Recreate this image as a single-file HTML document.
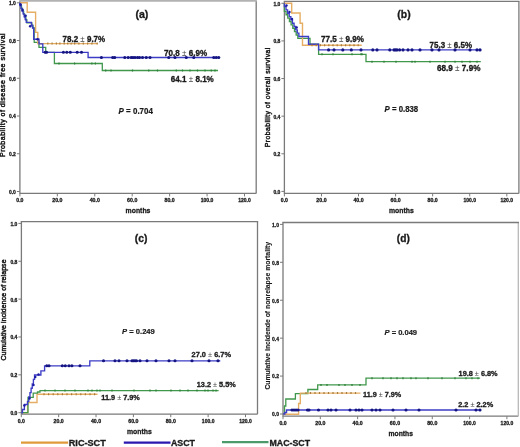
<!DOCTYPE html>
<html><head><meta charset="utf-8"><style>
html,body{margin:0;padding:0;background:#fff;width:520px;height:447px;overflow:hidden;position:relative}
text{font-family:"Liberation Sans", sans-serif}
</style></head><body>
<svg width="520" height="447" viewBox="0 0 520 447" style="position:absolute;left:0;top:0;filter:blur(0.3px)">
<g font-family='"Liberation Sans", sans-serif'>
<path d="M19.9,0.9 V193.4 H256.2" fill="none" stroke="#7a7a7a" stroke-width="1.3"/>
<path d="M256.2,193.4 V0.9" fill="none" stroke="#7a7a7a" stroke-width="1.3"/>
<path d="M19.25,0.9 H256.85" fill="none" stroke="#b2b2b2" stroke-width="1.6"/>
<text x="15.9" y="193.9" font-size="5.6" font-weight="bold" fill="#1a1a1a" text-anchor="end" textLength="7" lengthAdjust="spacingAndGlyphs" stroke="#1a1a1a" stroke-width="0.3">0.0</text>
<text x="15.9" y="156.16" font-size="5.6" font-weight="bold" fill="#1a1a1a" text-anchor="end" textLength="7" lengthAdjust="spacingAndGlyphs" stroke="#1a1a1a" stroke-width="0.3">0.2</text>
<text x="15.9" y="118.42" font-size="5.6" font-weight="bold" fill="#1a1a1a" text-anchor="end" textLength="7" lengthAdjust="spacingAndGlyphs" stroke="#1a1a1a" stroke-width="0.3">0.4</text>
<text x="15.9" y="80.68" font-size="5.6" font-weight="bold" fill="#1a1a1a" text-anchor="end" textLength="7" lengthAdjust="spacingAndGlyphs" stroke="#1a1a1a" stroke-width="0.3">0.6</text>
<text x="15.9" y="42.94" font-size="5.6" font-weight="bold" fill="#1a1a1a" text-anchor="end" textLength="7" lengthAdjust="spacingAndGlyphs" stroke="#1a1a1a" stroke-width="0.3">0.8</text>
<text x="15.9" y="5.2" font-size="5.6" font-weight="bold" fill="#1a1a1a" text-anchor="end" textLength="7" lengthAdjust="spacingAndGlyphs" stroke="#1a1a1a" stroke-width="0.3">1.0</text>
<text x="19.9" y="201.9" font-size="5.6" font-weight="bold" fill="#1a1a1a" text-anchor="middle" textLength="7.2" lengthAdjust="spacingAndGlyphs" stroke="#1a1a1a" stroke-width="0.3">0.0</text>
<text x="57.33" y="201.9" font-size="5.6" font-weight="bold" fill="#1a1a1a" text-anchor="middle" textLength="10.2" lengthAdjust="spacingAndGlyphs" stroke="#1a1a1a" stroke-width="0.3">20.0</text>
<text x="94.77" y="201.9" font-size="5.6" font-weight="bold" fill="#1a1a1a" text-anchor="middle" textLength="10.2" lengthAdjust="spacingAndGlyphs" stroke="#1a1a1a" stroke-width="0.3">40.0</text>
<text x="132.2" y="201.9" font-size="5.6" font-weight="bold" fill="#1a1a1a" text-anchor="middle" textLength="10.2" lengthAdjust="spacingAndGlyphs" stroke="#1a1a1a" stroke-width="0.3">60.0</text>
<text x="169.63" y="201.9" font-size="5.6" font-weight="bold" fill="#1a1a1a" text-anchor="middle" textLength="10.2" lengthAdjust="spacingAndGlyphs" stroke="#1a1a1a" stroke-width="0.3">80.0</text>
<text x="207.07" y="201.9" font-size="5.6" font-weight="bold" fill="#1a1a1a" text-anchor="middle" textLength="12.6" lengthAdjust="spacingAndGlyphs" stroke="#1a1a1a" stroke-width="0.3">100.0</text>
<text x="244.5" y="201.9" font-size="5.6" font-weight="bold" fill="#1a1a1a" text-anchor="middle" textLength="12.6" lengthAdjust="spacingAndGlyphs" stroke="#1a1a1a" stroke-width="0.3">120.0</text>
<path d="M16.9,191.5H19.9M16.9,153.76H19.9M16.9,116.02H19.9M16.9,78.28H19.9M16.9,40.54H19.9M16.9,2.8H19.9M19.9,193.4V196.4M57.33,193.4V196.4M94.77,193.4V196.4M132.2,193.4V196.4M169.63,193.4V196.4M207.07,193.4V196.4M244.5,193.4V196.4" stroke="#7a7a7a" stroke-width="1" fill="none"/>
<text x="125.6" y="213.2" font-size="8" font-weight="bold"  fill="#1a1a1a" textLength="24.8" lengthAdjust="spacingAndGlyphs" stroke="#1a1a1a" stroke-width="0.32">months</text>
<text transform="translate(5.2,157) rotate(-90)" x="0" y="0" font-size="7.0" font-weight="normal" fill="#1a1a1a" stroke="#1a1a1a" stroke-width="0.45" textLength="123.6" lengthAdjust="spacing">Probability of disease free survival</text>
<path d="M284.4,1.4 V193.4 H518.9" fill="none" stroke="#7a7a7a" stroke-width="1.3"/>
<path d="M518.9,193.4 V1.4" fill="none" stroke="#7a7a7a" stroke-width="1.3"/>
<path d="M283.75,1.4 H519.55" fill="none" stroke="#7a7a7a" stroke-width="1.3"/>
<text x="280.4" y="193.8" font-size="5.6" font-weight="bold" fill="#1a1a1a" text-anchor="end" textLength="7" lengthAdjust="spacingAndGlyphs" stroke="#1a1a1a" stroke-width="0.3">0.0</text>
<text x="280.4" y="156.18" font-size="5.6" font-weight="bold" fill="#1a1a1a" text-anchor="end" textLength="7" lengthAdjust="spacingAndGlyphs" stroke="#1a1a1a" stroke-width="0.3">0.2</text>
<text x="280.4" y="118.56" font-size="5.6" font-weight="bold" fill="#1a1a1a" text-anchor="end" textLength="7" lengthAdjust="spacingAndGlyphs" stroke="#1a1a1a" stroke-width="0.3">0.4</text>
<text x="280.4" y="80.94" font-size="5.6" font-weight="bold" fill="#1a1a1a" text-anchor="end" textLength="7" lengthAdjust="spacingAndGlyphs" stroke="#1a1a1a" stroke-width="0.3">0.6</text>
<text x="280.4" y="43.32" font-size="5.6" font-weight="bold" fill="#1a1a1a" text-anchor="end" textLength="7" lengthAdjust="spacingAndGlyphs" stroke="#1a1a1a" stroke-width="0.3">0.8</text>
<text x="280.4" y="5.7" font-size="5.6" font-weight="bold" fill="#1a1a1a" text-anchor="end" textLength="7" lengthAdjust="spacingAndGlyphs" stroke="#1a1a1a" stroke-width="0.3">1.0</text>
<text x="284.4" y="201.9" font-size="5.6" font-weight="bold" fill="#1a1a1a" text-anchor="middle" textLength="7.2" lengthAdjust="spacingAndGlyphs" stroke="#1a1a1a" stroke-width="0.3">0.0</text>
<text x="321.47" y="201.9" font-size="5.6" font-weight="bold" fill="#1a1a1a" text-anchor="middle" textLength="10.2" lengthAdjust="spacingAndGlyphs" stroke="#1a1a1a" stroke-width="0.3">20.0</text>
<text x="358.53" y="201.9" font-size="5.6" font-weight="bold" fill="#1a1a1a" text-anchor="middle" textLength="10.2" lengthAdjust="spacingAndGlyphs" stroke="#1a1a1a" stroke-width="0.3">40.0</text>
<text x="395.6" y="201.9" font-size="5.6" font-weight="bold" fill="#1a1a1a" text-anchor="middle" textLength="10.2" lengthAdjust="spacingAndGlyphs" stroke="#1a1a1a" stroke-width="0.3">60.0</text>
<text x="432.67" y="201.9" font-size="5.6" font-weight="bold" fill="#1a1a1a" text-anchor="middle" textLength="10.2" lengthAdjust="spacingAndGlyphs" stroke="#1a1a1a" stroke-width="0.3">80.0</text>
<text x="469.73" y="201.9" font-size="5.6" font-weight="bold" fill="#1a1a1a" text-anchor="middle" textLength="12.6" lengthAdjust="spacingAndGlyphs" stroke="#1a1a1a" stroke-width="0.3">100.0</text>
<text x="506.8" y="201.9" font-size="5.6" font-weight="bold" fill="#1a1a1a" text-anchor="middle" textLength="12.6" lengthAdjust="spacingAndGlyphs" stroke="#1a1a1a" stroke-width="0.3">120.0</text>
<path d="M281.4,191.4H284.4M281.4,153.78H284.4M281.4,116.16H284.4M281.4,78.54H284.4M281.4,40.92H284.4M281.4,3.3H284.4M284.4,193.4V196.4M321.47,193.4V196.4M358.53,193.4V196.4M395.6,193.4V196.4M432.67,193.4V196.4M469.73,193.4V196.4M506.8,193.4V196.4" stroke="#7a7a7a" stroke-width="1" fill="none"/>
<text x="389" y="213.2" font-size="8" font-weight="bold"  fill="#1a1a1a" textLength="24.8" lengthAdjust="spacingAndGlyphs" stroke="#1a1a1a" stroke-width="0.32">months</text>
<text transform="translate(270.2,147.2) rotate(-90)" x="0" y="0" font-size="6.8" font-weight="normal" fill="#1a1a1a" stroke="#1a1a1a" stroke-width="0.45" textLength="99.5" lengthAdjust="spacing">Probability of overall survival</text>
<path d="M21.4,221.6 V414.2 H257.5" fill="none" stroke="#7a7a7a" stroke-width="1.3"/>
<path d="M257.5,414.2 V221.6" fill="none" stroke="#7a7a7a" stroke-width="1.3"/>
<path d="M20.75,221.6 H258.15" fill="none" stroke="#7a7a7a" stroke-width="1.3"/>
<text x="17.4" y="415.1" font-size="5.6" font-weight="bold" fill="#1a1a1a" text-anchor="end" textLength="7" lengthAdjust="spacingAndGlyphs" stroke="#1a1a1a" stroke-width="0.3">0.0</text>
<text x="17.4" y="377.24" font-size="5.6" font-weight="bold" fill="#1a1a1a" text-anchor="end" textLength="7" lengthAdjust="spacingAndGlyphs" stroke="#1a1a1a" stroke-width="0.3">0.2</text>
<text x="17.4" y="339.38" font-size="5.6" font-weight="bold" fill="#1a1a1a" text-anchor="end" textLength="7" lengthAdjust="spacingAndGlyphs" stroke="#1a1a1a" stroke-width="0.3">0.4</text>
<text x="17.4" y="301.52" font-size="5.6" font-weight="bold" fill="#1a1a1a" text-anchor="end" textLength="7" lengthAdjust="spacingAndGlyphs" stroke="#1a1a1a" stroke-width="0.3">0.6</text>
<text x="17.4" y="263.66" font-size="5.6" font-weight="bold" fill="#1a1a1a" text-anchor="end" textLength="7" lengthAdjust="spacingAndGlyphs" stroke="#1a1a1a" stroke-width="0.3">0.8</text>
<text x="17.4" y="225.8" font-size="5.6" font-weight="bold" fill="#1a1a1a" text-anchor="end" textLength="7" lengthAdjust="spacingAndGlyphs" stroke="#1a1a1a" stroke-width="0.3">1.0</text>
<text x="21.3" y="423.2" font-size="5.6" font-weight="bold" fill="#1a1a1a" text-anchor="middle" textLength="7.2" lengthAdjust="spacingAndGlyphs" stroke="#1a1a1a" stroke-width="0.3">0.0</text>
<text x="58.67" y="423.2" font-size="5.6" font-weight="bold" fill="#1a1a1a" text-anchor="middle" textLength="10.2" lengthAdjust="spacingAndGlyphs" stroke="#1a1a1a" stroke-width="0.3">20.0</text>
<text x="96.03" y="423.2" font-size="5.6" font-weight="bold" fill="#1a1a1a" text-anchor="middle" textLength="10.2" lengthAdjust="spacingAndGlyphs" stroke="#1a1a1a" stroke-width="0.3">40.0</text>
<text x="133.4" y="423.2" font-size="5.6" font-weight="bold" fill="#1a1a1a" text-anchor="middle" textLength="10.2" lengthAdjust="spacingAndGlyphs" stroke="#1a1a1a" stroke-width="0.3">60.0</text>
<text x="170.77" y="423.2" font-size="5.6" font-weight="bold" fill="#1a1a1a" text-anchor="middle" textLength="10.2" lengthAdjust="spacingAndGlyphs" stroke="#1a1a1a" stroke-width="0.3">80.0</text>
<text x="208.13" y="423.2" font-size="5.6" font-weight="bold" fill="#1a1a1a" text-anchor="middle" textLength="12.6" lengthAdjust="spacingAndGlyphs" stroke="#1a1a1a" stroke-width="0.3">100.0</text>
<text x="245.5" y="423.2" font-size="5.6" font-weight="bold" fill="#1a1a1a" text-anchor="middle" textLength="12.6" lengthAdjust="spacingAndGlyphs" stroke="#1a1a1a" stroke-width="0.3">120.0</text>
<path d="M18.4,412.7H21.4M18.4,374.84H21.4M18.4,336.98H21.4M18.4,299.12H21.4M18.4,261.26H21.4M18.4,223.4H21.4M21.3,414.2V417.2M58.67,414.2V417.2M96.03,414.2V417.2M133.4,414.2V417.2M170.77,414.2V417.2M208.13,414.2V417.2M245.5,414.2V417.2" stroke="#7a7a7a" stroke-width="1" fill="none"/>
<text x="127" y="434" font-size="8" font-weight="bold"  fill="#1a1a1a" textLength="24.8" lengthAdjust="spacingAndGlyphs" stroke="#1a1a1a" stroke-width="0.32">months</text>
<text transform="translate(5.9,360.5) rotate(-90)" x="0" y="0" font-size="6.9" font-weight="normal" fill="#1a1a1a" stroke="#1a1a1a" stroke-width="0.45" textLength="101" lengthAdjust="spacing">Cumulative incidence of relapse</text>
<path d="M283,222.5 V416.2 H518.3" fill="none" stroke="#7a7a7a" stroke-width="1.3"/>
<path d="M518.3,416.2 V222.5" fill="none" stroke="#b8b8b8" stroke-width="1.3"/>
<path d="M282.35,222.5 H518.95" fill="none" stroke="#7a7a7a" stroke-width="1.3"/>
<text x="279" y="416.4" font-size="5.6" font-weight="bold" fill="#1a1a1a" text-anchor="end" textLength="7" lengthAdjust="spacingAndGlyphs" stroke="#1a1a1a" stroke-width="0.3">0.0</text>
<text x="279" y="378.48" font-size="5.6" font-weight="bold" fill="#1a1a1a" text-anchor="end" textLength="7" lengthAdjust="spacingAndGlyphs" stroke="#1a1a1a" stroke-width="0.3">0.2</text>
<text x="279" y="340.56" font-size="5.6" font-weight="bold" fill="#1a1a1a" text-anchor="end" textLength="7" lengthAdjust="spacingAndGlyphs" stroke="#1a1a1a" stroke-width="0.3">0.4</text>
<text x="279" y="302.64" font-size="5.6" font-weight="bold" fill="#1a1a1a" text-anchor="end" textLength="7" lengthAdjust="spacingAndGlyphs" stroke="#1a1a1a" stroke-width="0.3">0.6</text>
<text x="279" y="264.72" font-size="5.6" font-weight="bold" fill="#1a1a1a" text-anchor="end" textLength="7" lengthAdjust="spacingAndGlyphs" stroke="#1a1a1a" stroke-width="0.3">0.8</text>
<text x="279" y="226.8" font-size="5.6" font-weight="bold" fill="#1a1a1a" text-anchor="end" textLength="7" lengthAdjust="spacingAndGlyphs" stroke="#1a1a1a" stroke-width="0.3">1.0</text>
<text x="283" y="424.6" font-size="5.6" font-weight="bold" fill="#1a1a1a" text-anchor="middle" textLength="7.2" lengthAdjust="spacingAndGlyphs" stroke="#1a1a1a" stroke-width="0.3">0.0</text>
<text x="320.32" y="424.6" font-size="5.6" font-weight="bold" fill="#1a1a1a" text-anchor="middle" textLength="10.2" lengthAdjust="spacingAndGlyphs" stroke="#1a1a1a" stroke-width="0.3">20.0</text>
<text x="357.63" y="424.6" font-size="5.6" font-weight="bold" fill="#1a1a1a" text-anchor="middle" textLength="10.2" lengthAdjust="spacingAndGlyphs" stroke="#1a1a1a" stroke-width="0.3">40.0</text>
<text x="394.95" y="424.6" font-size="5.6" font-weight="bold" fill="#1a1a1a" text-anchor="middle" textLength="10.2" lengthAdjust="spacingAndGlyphs" stroke="#1a1a1a" stroke-width="0.3">60.0</text>
<text x="432.27" y="424.6" font-size="5.6" font-weight="bold" fill="#1a1a1a" text-anchor="middle" textLength="10.2" lengthAdjust="spacingAndGlyphs" stroke="#1a1a1a" stroke-width="0.3">80.0</text>
<text x="469.58" y="424.6" font-size="5.6" font-weight="bold" fill="#1a1a1a" text-anchor="middle" textLength="12.6" lengthAdjust="spacingAndGlyphs" stroke="#1a1a1a" stroke-width="0.3">100.0</text>
<text x="506.9" y="424.6" font-size="5.6" font-weight="bold" fill="#1a1a1a" text-anchor="middle" textLength="12.6" lengthAdjust="spacingAndGlyphs" stroke="#1a1a1a" stroke-width="0.3">120.0</text>
<path d="M280,414H283M280,376.08H283M280,338.16H283M280,300.24H283M280,262.32H283M280,224.4H283M283,416.2V419.2M320.32,416.2V419.2M357.63,416.2V419.2M394.95,416.2V419.2M432.27,416.2V419.2M469.58,416.2V419.2M506.9,416.2V419.2" stroke="#7a7a7a" stroke-width="1" fill="none"/>
<text x="388.5" y="435.8" font-size="8" font-weight="bold"  fill="#1a1a1a" textLength="24.4" lengthAdjust="spacingAndGlyphs" stroke="#1a1a1a" stroke-width="0.32">months</text>
<text transform="translate(270.4,389.6) rotate(-90)" x="0" y="0" font-size="6.8" font-weight="bold" fill="#1a1a1a" stroke="#1a1a1a" stroke-width="0.1" textLength="147.6" lengthAdjust="spacing">Cumulative incidende of nonrelapse mortality</text>
<path d="M20.4,2.8 L20.4,5.66 L21.49,5.66 L21.49,8.51 L22.57,8.51 L22.57,11.37 L23.66,11.37 L23.66,14.23 L24.74,14.23 L24.74,17.09 L25.83,17.09 L25.83,19.94 L26.91,19.94 L26.91,22.8 L28,22.8 L31.9,22.8 L31.9,25.4 L33.05,25.4 L33.05,28 L34.2,28 L34.2,42.4 L33.7,42.4 L39,42.4 L39,47.4 L45.7,47.4 L45.7,52.3 L54.4,52.3 L54.4,63.5 L102.3,63.5 L102.3,70.5 L218,70.5" fill="none" stroke="#40984C" stroke-width="1.3" stroke-linejoin="miter" stroke-linecap="butt"/>
<path d="M19.9,2.8 L27.2,2.8 L27.2,12.3 L35.6,12.3 L35.6,32.4 L37.8,32.4 L37.8,43.6 L98,43.6" fill="none" stroke="#E6AE64" stroke-width="1.4" stroke-linejoin="miter" stroke-linecap="butt"/>
<path d="M19.9,2.8 L19.9,5.59 L20.96,5.59 L20.96,8.37 L22.01,8.37 L22.01,11.16 L23.07,11.16 L23.07,13.94 L24.13,13.94 L24.13,16.73 L25.19,16.73 L25.19,19.51 L26.24,19.51 L26.24,22.3 L27.3,22.3 L31.4,22.3 L31.4,25.15 L32.55,25.15 L32.55,28 L33.7,28 L33.7,39.2 L39,39.2 L39,43.9 L42.8,43.9 L42.8,52.3 L88.1,52.3 L88.1,57.5 L219,57.5" fill="none" stroke="#3C3CC6" stroke-width="1.35" stroke-linejoin="miter" stroke-linecap="butt"/>
<path d="M47.8,42.6V44.6M52.1,42.6V44.6M56.4,42.6V44.6M59.9,42.6V44.6M64.2,42.6V44.6M67.7,42.6V44.6M71.1,42.6V44.6M74.6,42.6V44.6M78.9,42.6V44.6M83.3,42.6V44.6M87.6,42.6V44.6M91.9,42.6V44.6M97.1,42.6V44.6" stroke="#A97C3C" stroke-width="1.2" fill="none"/>
<path d="M59,62.5V64.5M74.6,62.5V64.5M91.9,62.5V64.5M95.4,62.5V64.5" stroke="#2F7F38" stroke-width="1.2" fill="none"/>
<path d="M105.7,69.5V71.5M111,69.5V71.5M132.5,69.5V71.5M148.75,69.5V71.5M157.5,69.5V71.5M176.25,69.5V71.5M182.5,69.5V71.5M190,69.5V71.5M197.5,69.5V71.5M205,69.5V71.5M211.25,69.5V71.5M215,69.5V71.5" stroke="#2F7F38" stroke-width="1.2" fill="none"/>
<circle cx="22.9" cy="0" r="0" fill="#3C3CC6"/>
<circle cx="23.2" cy="0" r="0" fill="#3C3CC6"/>
<circle cx="26.3" cy="0" r="0" fill="#3C3CC6"/>
<circle cx="30" cy="0" r="0" fill="#3C3CC6"/>
<circle cx="45.2" cy="52.3" r="1.55" fill="#141482"/>
<circle cx="46.6" cy="52.3" r="1.55" fill="#141482"/>
<circle cx="63.4" cy="52.3" r="1.55" fill="#141482"/>
<circle cx="66.8" cy="52.3" r="1.55" fill="#141482"/>
<circle cx="70.3" cy="52.3" r="1.55" fill="#141482"/>
<circle cx="77.2" cy="52.3" r="1.55" fill="#141482"/>
<circle cx="81.5" cy="52.3" r="1.55" fill="#141482"/>
<circle cx="101.4" cy="57.5" r="1.55" fill="#141482"/>
<circle cx="112.7" cy="57.5" r="1.55" fill="#141482"/>
<circle cx="114.7" cy="57.5" r="1.55" fill="#141482"/>
<circle cx="124.8" cy="57.5" r="1.55" fill="#141482"/>
<circle cx="128.2" cy="57.5" r="1.55" fill="#141482"/>
<circle cx="131.25" cy="57.5" r="1.55" fill="#141482"/>
<circle cx="133" cy="57.5" r="1.55" fill="#141482"/>
<circle cx="135" cy="57.5" r="1.55" fill="#141482"/>
<circle cx="137.5" cy="57.5" r="1.55" fill="#141482"/>
<circle cx="139.5" cy="57.5" r="1.55" fill="#141482"/>
<circle cx="142.5" cy="57.5" r="1.55" fill="#141482"/>
<circle cx="146.25" cy="57.5" r="1.55" fill="#141482"/>
<circle cx="150" cy="57.5" r="1.55" fill="#141482"/>
<circle cx="168.75" cy="57.5" r="1.55" fill="#141482"/>
<circle cx="175" cy="57.5" r="1.55" fill="#141482"/>
<circle cx="186.25" cy="57.5" r="1.55" fill="#141482"/>
<circle cx="193.75" cy="57.5" r="1.55" fill="#141482"/>
<circle cx="213.75" cy="57.5" r="1.55" fill="#141482"/>
<circle cx="216.25" cy="57.5" r="1.55" fill="#141482"/>
<circle cx="218.75" cy="57.5" r="1.55" fill="#141482"/>
<circle cx="20.6" cy="4.6" r="1.3" fill="#1a1aa0"/>
<circle cx="22.6" cy="10.0" r="1.3" fill="#1a1aa0"/>
<circle cx="25.6" cy="15.8" r="1.3" fill="#1a1aa0"/>
<circle cx="30.2" cy="26.2" r="1.3" fill="#1a1aa0"/>
<circle cx="37.6" cy="39.3" r="1.3" fill="#1a1aa0"/>
<path d="M284.4,3.3 L284.4,8 L284.4,11.38 L286.08,11.38 L286.08,14.76 L287.76,14.76 L287.76,18.13 L289.43,18.13 L289.43,21.51 L291.11,21.51 L291.11,24.89 L292.79,24.89 L292.79,28.27 L294.47,28.27 L294.47,31.64 L296.14,31.64 L296.14,35.02 L297.82,35.02 L297.82,38.4 L299.5,38.4 L310,38.4 L310,44.2 L318.6,44.2 L318.6,54.3 L366,54.3 L366,61.7 L480.8,61.7" fill="none" stroke="#40984C" stroke-width="1.3" stroke-linejoin="miter" stroke-linecap="butt"/>
<path d="M284.4,3.3 L291.7,3.3 L291.7,13 L300.1,13 L300.1,23.3 L302.5,23.3 L302.5,45.2 L361.8,45.2" fill="none" stroke="#E6AE64" stroke-width="1.4" stroke-linejoin="miter" stroke-linecap="butt"/>
<path d="M284.4,3.3 L284.4,6.62 L286.01,6.62 L286.01,9.94 L287.62,9.94 L287.62,13.26 L289.23,13.26 L289.23,16.58 L290.84,16.58 L290.84,19.9 L292.45,19.9 L292.45,23.22 L294.06,23.22 L294.06,26.54 L295.67,26.54 L295.67,29.86 L297.28,29.86 L297.28,33.18 L298.89,33.18 L298.89,36.5 L300.5,36.5 L308.5,36.5 L308.5,44.2 L318.6,44.2 L318.6,49.9 L481.3,49.9" fill="none" stroke="#3C3CC6" stroke-width="1.35" stroke-linejoin="miter" stroke-linecap="butt"/>
<path d="M312,44.2V46.2M316.2,44.2V46.2M320.4,44.2V46.2M324.6,44.2V46.2M328.8,44.2V46.2M333,44.2V46.2M337.2,44.2V46.2M341.4,44.2V46.2M345.6,44.2V46.2M349.8,44.2V46.2M354,44.2V46.2M358.2,44.2V46.2" stroke="#A97C3C" stroke-width="1.2" fill="none"/>
<path d="M322,53.3V55.3M333,53.3V55.3M352,53.3V55.3M361,53.3V55.3M362,53.3V55.3" stroke="#2F7F38" stroke-width="1.2" fill="none"/>
<path d="M372,60.7V62.7M384,60.7V62.7M396,60.7V62.7M412,60.7V62.7M415,60.7V62.7M430,60.7V62.7M445,60.7V62.7M455,60.7V62.7M462,60.7V62.7M470,60.7V62.7M477,60.7V62.7" stroke="#2F7F38" stroke-width="1.2" fill="none"/>
<circle cx="328.6" cy="49.9" r="1.55" fill="#141482"/>
<circle cx="334" cy="49.9" r="1.55" fill="#141482"/>
<circle cx="342.8" cy="49.9" r="1.55" fill="#141482"/>
<circle cx="351.3" cy="49.9" r="1.55" fill="#141482"/>
<circle cx="361" cy="49.9" r="1.55" fill="#141482"/>
<circle cx="372.8" cy="49.9" r="1.55" fill="#141482"/>
<circle cx="377" cy="49.9" r="1.55" fill="#141482"/>
<circle cx="389.8" cy="49.9" r="1.55" fill="#141482"/>
<circle cx="394" cy="49.9" r="1.55" fill="#141482"/>
<circle cx="395.5" cy="49.9" r="1.55" fill="#141482"/>
<circle cx="397" cy="49.9" r="1.55" fill="#141482"/>
<circle cx="399.6" cy="49.9" r="1.55" fill="#141482"/>
<circle cx="403" cy="49.9" r="1.55" fill="#141482"/>
<circle cx="408" cy="49.9" r="1.55" fill="#141482"/>
<circle cx="412" cy="49.9" r="1.55" fill="#141482"/>
<circle cx="420" cy="49.9" r="1.55" fill="#141482"/>
<circle cx="432" cy="49.9" r="1.55" fill="#141482"/>
<circle cx="439" cy="49.9" r="1.55" fill="#141482"/>
<circle cx="455" cy="49.9" r="1.55" fill="#141482"/>
<circle cx="470" cy="49.9" r="1.55" fill="#141482"/>
<circle cx="477" cy="49.9" r="1.55" fill="#141482"/>
<circle cx="480" cy="49.9" r="1.55" fill="#141482"/>
<circle cx="286.5" cy="5.5" r="1.2" fill="#1a1aa0"/>
<circle cx="289.5" cy="12" r="1.2" fill="#1a1aa0"/>
<circle cx="292" cy="19" r="1.2" fill="#1a1aa0"/>
<circle cx="296.7" cy="27.5" r="1.2" fill="#1a1aa0"/>
<path d="M21.3,412.9 L27.6,412.9 L27.6,402.5 L37,402.5 L37,394.2 L97.5,394.2" fill="none" stroke="#E6AE64" stroke-width="1.4" stroke-linejoin="miter" stroke-linecap="butt"/>
<path d="M21.3,412.7 L28,412.7 L28,397.3 L33.2,397.3 L33.2,393.2 L37.5,393.2 L37.5,392 L40,392 L40,390.6 L218.6,390.6" fill="none" stroke="#40984C" stroke-width="1.3" stroke-linejoin="miter" stroke-linecap="butt"/>
<path d="M21.3,412.7 L22.5,412.7 L22.5,409.5 L24.4,409.5 L24.4,404.5 L27.5,404.5 L27.5,401.4 L28.8,401.4 L28.8,397 L29.95,397 L29.95,392.6 L31.1,392.6 L31.1,388.2 L32.25,388.2 L32.25,383.8 L33.4,383.8 L33.4,379.4 L34.55,379.4 L34.55,375 L35.7,375 L40.9,375 L40.9,370.8 L44.6,370.8 L44.6,365.8 L89.8,365.8 L89.8,360.8 L220.3,360.8" fill="none" stroke="#3C3CC6" stroke-width="1.35" stroke-linejoin="miter" stroke-linecap="butt"/>
<path d="M44,393.2V395.2M48.6,393.2V395.2M53.2,393.2V395.2M57.8,393.2V395.2M62.4,393.2V395.2M67,393.2V395.2M71.6,393.2V395.2M76.2,393.2V395.2M80.8,393.2V395.2M85.4,393.2V395.2M90,393.2V395.2M94.6,393.2V395.2" stroke="#A97C3C" stroke-width="1.2" fill="none"/>
<path d="M45,389.6V391.6M55,389.6V391.6M65,389.6V391.6M75,389.6V391.6M88,389.6V391.6M92,389.6V391.6M97,389.6V391.6M100,389.6V391.6M112,389.6V391.6M134,389.6V391.6M150,389.6V391.6M156,389.6V391.6M171,389.6V391.6M180,389.6V391.6M188,389.6V391.6M197,389.6V391.6M205,389.6V391.6M208,389.6V391.6M213,389.6V391.6M216,389.6V391.6" stroke="#2F7F38" stroke-width="1.2" fill="none"/>
<circle cx="24.5" cy="0" r="0" fill="#3C3CC6"/>
<circle cx="25.5" cy="0" r="0" fill="#3C3CC6"/>
<circle cx="30.5" cy="0" r="0" fill="#3C3CC6"/>
<circle cx="32.2" cy="0" r="0" fill="#3C3CC6"/>
<circle cx="36.5" cy="0" r="0" fill="#3C3CC6"/>
<circle cx="40.5" cy="0" r="0" fill="#3C3CC6"/>
<circle cx="46.8" cy="365.8" r="1.55" fill="#141482"/>
<circle cx="49" cy="365.8" r="1.55" fill="#141482"/>
<circle cx="62.3" cy="365.8" r="1.55" fill="#141482"/>
<circle cx="65.3" cy="365.8" r="1.55" fill="#141482"/>
<circle cx="69" cy="365.8" r="1.55" fill="#141482"/>
<circle cx="71.9" cy="365.8" r="1.55" fill="#141482"/>
<circle cx="80" cy="365.8" r="1.55" fill="#141482"/>
<circle cx="103.5" cy="360.8" r="1.55" fill="#141482"/>
<circle cx="115" cy="360.8" r="1.55" fill="#141482"/>
<circle cx="119" cy="360.8" r="1.55" fill="#141482"/>
<circle cx="127" cy="360.8" r="1.55" fill="#141482"/>
<circle cx="132" cy="360.8" r="1.55" fill="#141482"/>
<circle cx="133.5" cy="360.8" r="1.55" fill="#141482"/>
<circle cx="135" cy="360.8" r="1.55" fill="#141482"/>
<circle cx="136.5" cy="360.8" r="1.55" fill="#141482"/>
<circle cx="140" cy="360.8" r="1.55" fill="#141482"/>
<circle cx="147" cy="360.8" r="1.55" fill="#141482"/>
<circle cx="156" cy="360.8" r="1.55" fill="#141482"/>
<circle cx="169" cy="360.8" r="1.55" fill="#141482"/>
<circle cx="175" cy="360.8" r="1.55" fill="#141482"/>
<circle cx="192" cy="360.8" r="1.55" fill="#141482"/>
<circle cx="209" cy="360.8" r="1.55" fill="#141482"/>
<circle cx="218" cy="360.8" r="1.55" fill="#141482"/>
<circle cx="24.4" cy="405.5" r="1.2" fill="#1a1aa0"/>
<circle cx="29.5" cy="398.5" r="1.2" fill="#1a1aa0"/>
<circle cx="33.5" cy="385" r="1.2" fill="#1a1aa0"/>
<circle cx="35.3" cy="377" r="1.2" fill="#1a1aa0"/>
<circle cx="38.5" cy="374.5" r="1.2" fill="#1a1aa0"/>
<path d="M283,414 L284.5,414 L284.5,406 L285.8,406 L285.8,399 L295.4,399 L295.4,393.7 L307.9,393.7 L307.9,389.5 L317.7,389.5 L317.7,384.9 L366,384.9 L366,378.2 L480.1,378.2" fill="none" stroke="#40984C" stroke-width="1.3" stroke-linejoin="miter" stroke-linecap="butt"/>
<path d="M283,414.3 L298.6,414.3 L298.6,403.5 L300.3,403.5 L300.3,393.1 L360.5,393.1" fill="none" stroke="#E6AE64" stroke-width="1.4" stroke-linejoin="miter" stroke-linecap="butt"/>
<path d="M283,414 L284.8,414 L284.8,412.5 L286.5,412.5 L286.5,410 L481,410" fill="none" stroke="#3C3CC6" stroke-width="1.45" stroke-linejoin="miter" stroke-linecap="butt"/>
<path d="M306,392.1V394.1M310.5,392.1V394.1M315,392.1V394.1M319.5,392.1V394.1M324,392.1V394.1M328.5,392.1V394.1M333,392.1V394.1M337.5,392.1V394.1M342,392.1V394.1M346.5,392.1V394.1M351,392.1V394.1M355.5,392.1V394.1" stroke="#A97C3C" stroke-width="1.2" fill="none"/>
<path d="M321,383.9V385.9M327,383.9V385.9M339,383.9V385.9M345,383.9V385.9M352,383.9V385.9M360,383.9V385.9" stroke="#2F7F38" stroke-width="1.2" fill="none"/>
<path d="M372,377.2V379.2M383,377.2V379.2M391,377.2V379.2M397,377.2V379.2M403,377.2V379.2M411,377.2V379.2M416,377.2V379.2M428,377.2V379.2M442,377.2V379.2M455,377.2V379.2M466,377.2V379.2M472,377.2V379.2M478,377.2V379.2" stroke="#2F7F38" stroke-width="1.2" fill="none"/>
<circle cx="292" cy="410" r="1.55" fill="#141482"/>
<circle cx="294" cy="410" r="1.55" fill="#141482"/>
<circle cx="296" cy="410" r="1.55" fill="#141482"/>
<circle cx="298" cy="410" r="1.55" fill="#141482"/>
<circle cx="307.5" cy="410" r="1.55" fill="#141482"/>
<circle cx="309" cy="410" r="1.55" fill="#141482"/>
<circle cx="318.5" cy="410" r="1.55" fill="#141482"/>
<circle cx="328" cy="410" r="1.55" fill="#141482"/>
<circle cx="331" cy="410" r="1.55" fill="#141482"/>
<circle cx="336" cy="410" r="1.55" fill="#141482"/>
<circle cx="350" cy="410" r="1.55" fill="#141482"/>
<circle cx="356" cy="410" r="1.55" fill="#141482"/>
<circle cx="359" cy="410" r="1.55" fill="#141482"/>
<circle cx="362" cy="410" r="1.55" fill="#141482"/>
<circle cx="372" cy="410" r="1.55" fill="#141482"/>
<circle cx="376" cy="410" r="1.55" fill="#141482"/>
<circle cx="380" cy="410" r="1.55" fill="#141482"/>
<circle cx="393" cy="410" r="1.55" fill="#141482"/>
<circle cx="406" cy="410" r="1.55" fill="#141482"/>
<circle cx="419" cy="410" r="1.55" fill="#141482"/>
<circle cx="456" cy="410" r="1.55" fill="#141482"/>
<circle cx="476" cy="410" r="1.55" fill="#141482"/>
<circle cx="480" cy="410" r="1.55" fill="#141482"/>
<text x="135.4" y="17.9" font-size="11" font-weight="bold"  fill="#1a1a1a" textLength="13" lengthAdjust="spacingAndGlyphs" stroke="#1a1a1a" stroke-width="0.32">(a)</text>
<text x="62.5" y="41.5" font-size="8.6" font-weight="bold"  fill="#1a1a1a" textLength="42.7" lengthAdjust="spacingAndGlyphs" stroke="#1a1a1a" stroke-width="0.32">78.2 <tspan font-weight="normal" fill="#444" stroke="none">±</tspan> 9.7%</text>
<text x="164" y="55.8" font-size="8.4" font-weight="bold"  fill="#1a1a1a" textLength="43.1" lengthAdjust="spacingAndGlyphs" stroke="#1a1a1a" stroke-width="0.32">70.8 <tspan font-weight="normal" fill="#444" stroke="none">±</tspan> 6.9%</text>
<text x="170.8" y="82.4" font-size="8.6" font-weight="bold"  fill="#1a1a1a" textLength="43" lengthAdjust="spacingAndGlyphs" stroke="#1a1a1a" stroke-width="0.32">64.1 <tspan font-weight="normal" fill="#444" stroke="none">±</tspan> 8.1%</text>
<text x="118.6" y="113.7" font-size="8.2" font-weight="bold" fill="#1a1a1a" textLength="34.3" lengthAdjust="spacingAndGlyphs" stroke="#1a1a1a" stroke-width="0.2"><tspan font-style="italic">P</tspan> = 0.704</text>
<text x="397.3" y="17.7" font-size="11" font-weight="bold"  fill="#1a1a1a" textLength="13.3" lengthAdjust="spacingAndGlyphs" stroke="#1a1a1a" stroke-width="0.32">(b)</text>
<text x="321" y="41.6" font-size="8.4" font-weight="bold"  fill="#1a1a1a" textLength="43" lengthAdjust="spacingAndGlyphs" stroke="#1a1a1a" stroke-width="0.32">77.5 <tspan font-weight="normal" fill="#444" stroke="none">±</tspan> 9.9%</text>
<text x="429.6" y="48" font-size="8.2" font-weight="bold"  fill="#1a1a1a" textLength="42.4" lengthAdjust="spacingAndGlyphs" stroke="#1a1a1a" stroke-width="0.32">75.3 <tspan font-weight="normal" fill="#444" stroke="none">±</tspan> 6.5%</text>
<text x="437" y="71.1" font-size="8.2" font-weight="bold"  fill="#1a1a1a" textLength="43.4" lengthAdjust="spacingAndGlyphs" stroke="#1a1a1a" stroke-width="0.32">68.9 <tspan font-weight="normal" fill="#444" stroke="none">±</tspan> 7.9%</text>
<text x="384.5" y="112.1" font-size="8.2" font-weight="bold" fill="#1a1a1a" textLength="33.7" lengthAdjust="spacingAndGlyphs" stroke="#1a1a1a" stroke-width="0.2"><tspan font-style="italic">P</tspan> = 0.838</text>
<text x="134.8" y="242" font-size="11" font-weight="bold"  fill="#1a1a1a" textLength="12.7" lengthAdjust="spacingAndGlyphs" stroke="#1a1a1a" stroke-width="0.32">(c)</text>
<text x="122.1" y="334.0" font-size="7.9" font-weight="bold" fill="#1a1a1a" textLength="32.7" lengthAdjust="spacingAndGlyphs" stroke="#1a1a1a" stroke-width="0.2"><tspan font-style="italic">P</tspan> = 0.249</text>
<text x="191.6" y="356.8" font-size="7.6" font-weight="bold"  fill="#1a1a1a" textLength="39.4" lengthAdjust="spacingAndGlyphs" stroke="#1a1a1a" stroke-width="0.32">27.0 <tspan font-weight="normal" fill="#444" stroke="none">±</tspan> 6.7%</text>
<text x="196.8" y="387" font-size="7.6" font-weight="bold"  fill="#1a1a1a" textLength="38.9" lengthAdjust="spacingAndGlyphs" stroke="#1a1a1a" stroke-width="0.32">13.2 <tspan font-weight="normal" fill="#444" stroke="none">±</tspan> 5.5%</text>
<text x="101.3" y="399.6" font-size="7.6" font-weight="bold"  fill="#1a1a1a" textLength="38.5" lengthAdjust="spacingAndGlyphs" stroke="#1a1a1a" stroke-width="0.32">11.9 <tspan font-weight="normal" fill="#444" stroke="none">±</tspan> 7.9%</text>
<text x="396.8" y="241.5" font-size="11" font-weight="bold"  fill="#1a1a1a" textLength="13" lengthAdjust="spacingAndGlyphs" stroke="#1a1a1a" stroke-width="0.32">(d)</text>
<text x="384.5" y="335.2" font-size="7.9" font-weight="bold" fill="#1a1a1a" textLength="32.6" lengthAdjust="spacingAndGlyphs" stroke="#1a1a1a" stroke-width="0.2"><tspan font-style="italic">P</tspan> = 0.049</text>
<text x="458.6" y="376.2" font-size="7.6" font-weight="bold"  fill="#1a1a1a" textLength="39" lengthAdjust="spacingAndGlyphs" stroke="#1a1a1a" stroke-width="0.32">19.8 <tspan font-weight="normal" fill="#444" stroke="none">±</tspan> 6.8%</text>
<text x="363.1" y="396.6" font-size="7.8" font-weight="bold"  fill="#1a1a1a" textLength="38.1" lengthAdjust="spacingAndGlyphs" stroke="#1a1a1a" stroke-width="0.32">11.9 <tspan font-weight="normal" fill="#444" stroke="none">±</tspan> 7.9%</text>
<text x="458.2" y="407.1" font-size="7.6" font-weight="bold"  fill="#1a1a1a" textLength="35" lengthAdjust="spacingAndGlyphs" stroke="#1a1a1a" stroke-width="0.32">2.2 <tspan font-weight="normal" fill="#444" stroke="none">±</tspan> 2.2%</text>
<path d="M21,442.6H68.2" stroke="#E09A3A" stroke-width="2.2"/>
<text x="68.8" y="445.6" font-size="9" font-weight="bold"  fill="#1a1a1a" textLength="36.9" lengthAdjust="spacingAndGlyphs" stroke="#1a1a1a" stroke-width="0.32">RIC-SCT</text>
<path d="M123.8,442.7H170.5" stroke="#2a18b0" stroke-width="2.2"/>
<text x="171" y="445.6" font-size="9" font-weight="bold"  fill="#1a1a1a" textLength="24" lengthAdjust="spacingAndGlyphs" stroke="#1a1a1a" stroke-width="0.32">ASCT</text>
<path d="M222,442.1H268.5" stroke="#4c9a6a" stroke-width="2.2"/>
<text x="269.5" y="445.6" font-size="9" font-weight="bold"  fill="#1a1a1a" textLength="40.5" lengthAdjust="spacingAndGlyphs" stroke="#1a1a1a" stroke-width="0.32">MAC-SCT</text>
</g></svg>
</body></html>
